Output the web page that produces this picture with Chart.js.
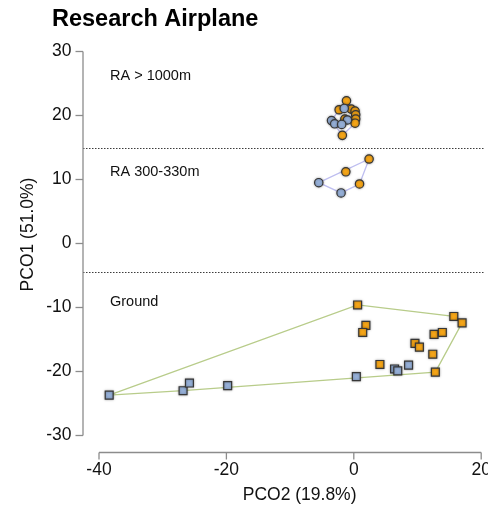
<!DOCTYPE html>
<html>
<head>
<meta charset="utf-8">
<script src="https://cdn.jsdelivr.net/npm/chart.js@4.4.1/dist/chart.umd.min.js"></script>
<style>
  html, body { margin: 0; padding: 0; background: #ffffff; }
  #c { display: block; }
</style>
</head>
<body>
<canvas id="c" width="488" height="505"></canvas>
<script>
// ---------- data ----------
const chartTitle = "Research Airplane";
const xAxisTitle = "PCO2 (19.8%)";
const yAxisTitle = "PCO1 (51.0%)";
const xTicks = [-40, -20, 0, 20];
const yTicks = [-30, -20, -10, 0, 10, 20, 30];
const groupLabels = ["RA > 1000m", "RA 300-330m", "Ground"];
const groupLabelY = [26.2, 11.1, -9.1];
const separatorY = [15, -4.4];

// RA > 1000m (circles)
const highOrange = [[-1.15, 22.3], [-2.3, 20.9], [-0.4, 21.0], [0.2, 20.7], [0.3, 20.1], [0.3, 19.45], [0.2, 18.8], [-1.4, 19.45], [-1.8, 16.9]];
const highBlue = [[-1.5, 21.1], [-3.5, 19.2], [-3.0, 18.7], [-1.0, 19.3], [-1.9, 18.6]];
// RA 300-330m (circles)
const midOrange = [[2.4, 13.2], [-1.25, 11.2], [0.9, 9.3]];
const midBlue = [[-5.5, 9.5], [-2.0, 7.9]];
// Ground (squares)
const groundOrange = [[0.6, -9.6], [15.7, -11.4], [17.0, -12.4], [1.9, -12.8], [1.4, -13.9], [12.6, -14.2], [13.9, -13.9], [9.6, -15.6], [10.3, -16.2], [12.4, -17.3], [4.1, -18.9], [12.8, -20.1]];
const groundBlue = [[-38.4, -23.7], [-26.8, -23.0], [-25.8, -21.8], [-19.8, -22.2], [0.4, -20.8], [6.4, -19.6], [6.9, -19.9], [8.6, -19.0]];

// ---------- helpers ----------
const FONT = "'Liberation Sans', Arial, Helvetica, sans-serif";
const ORANGE = "rgb(246,166,24)";
const BLUE = "rgb(150,176,216)";
const EDGE = "rgb(55,55,55)";
const LAVENDER = "rgb(190,190,240)";
const OLIVE = "rgb(184,204,138)";

const toPts = arr => arr.map(p => ({ x: p[0], y: p[1] }));
function hull(points) {
  const p = points.map(a => ({ x: a[0], y: a[1] })).sort((a, b) => a.x - b.x || a.y - b.y);
  const cross = (o, a, b) => (a.x - o.x) * (b.y - o.y) - (a.y - o.y) * (b.x - o.x);
  const lower = [], upper = [];
  for (const q of p) { while (lower.length >= 2 && cross(lower[lower.length - 2], lower[lower.length - 1], q) <= 0) lower.pop(); lower.push(q); }
  for (let i = p.length - 1; i >= 0; i--) { const q = p[i]; while (upper.length >= 2 && cross(upper[upper.length - 2], upper[upper.length - 1], q) <= 0) upper.pop(); upper.push(q); }
  upper.pop(); lower.pop();
  const h = lower.concat(upper);
  h.push(h[0]);
  return h;
}

function hullSet(points, color) {
  return { type: 'scatter', data: hull(points), showLine: true, borderColor: color, borderWidth: 1.3,
           pointRadius: 0, pointHoverRadius: 0, fill: false, order: 10, tension: 0, isHull: true };
}
function markerSet(points, fill, style) {
  return { type: 'scatter', data: toPts(points), backgroundColor: fill, borderColor: EDGE, borderWidth: 1.2,
           pointStyle: style, pointRadius: style === 'rect' ? 5.6 : 4.2, pointHoverRadius: style === 'rect' ? 5.6 : 4.2, order: 1 };
}

const shadowPlugin = {
  id: 'markerShadow',
  beforeDatasetDraw(chart, args) {
    if (chart.data.datasets[args.index].isHull) return;
    const ctx = chart.ctx;
    ctx.save();
    ctx.shadowColor = "rgba(0,0,0,0.35)";
    ctx.shadowBlur = 2.5;
  },
  afterDatasetDraw(chart, args) {
    if (chart.data.datasets[args.index].isHull) return;
    chart.ctx.restore();
  }
};

const decorPlugin = {
  id: 'decor',
  beforeDatasetsDraw(chart) {
    const ctx = chart.ctx, ys = chart.scales.y, area = chart.chartArea;
    ctx.save();
    ctx.strokeStyle = "rgb(60,60,60)";
    ctx.lineWidth = 1;
    ctx.setLineDash([1.5, 1.5]);
    const axisX = area.left - 16;
    separatorY.forEach(v => {
      const y = Math.round(ys.getPixelForValue(v)) + 0.5;
      ctx.beginPath(); ctx.moveTo(axisX, y); ctx.lineTo(area.right + 3, y); ctx.stroke();
    });
    ctx.setLineDash([]);
    ctx.fillStyle = "#111";
    ctx.font = "14.5px " + FONT;
    ctx.textAlign = "left"; ctx.textBaseline = "middle";
    groupLabels.forEach((t, i) => ctx.fillText(t, area.left + 11, ys.getPixelForValue(groupLabelY[i])));
    ctx.restore();
  },
  afterDraw(chart) {
    const ctx = chart.ctx, xs = chart.scales.x, ys = chart.scales.y, area = chart.chartArea;
    ctx.save();
    ctx.strokeStyle = "rgb(140,140,140)";
    ctx.lineWidth = 1.3;
    const ax = area.left - 16;
    const yTop = ys.getPixelForValue(yTicks[yTicks.length - 1]);
    const yBot = ys.getPixelForValue(yTicks[0]);
    ctx.beginPath(); ctx.moveTo(ax, yTop); ctx.lineTo(ax, yBot); ctx.stroke();
    yTicks.forEach(v => { const y = ys.getPixelForValue(v); ctx.beginPath(); ctx.moveTo(ax, y); ctx.lineTo(ax - 7.5, y); ctx.stroke(); });
    const ay = area.bottom + 17;
    const xL = xs.getPixelForValue(xTicks[0]);
    const xR = xs.getPixelForValue(xTicks[xTicks.length - 1]);
    ctx.beginPath(); ctx.moveTo(xL, ay); ctx.lineTo(xR, ay); ctx.stroke();
    xTicks.forEach(v => { const x = xs.getPixelForValue(v); ctx.beginPath(); ctx.moveTo(x, ay); ctx.lineTo(x, ay + 7); ctx.stroke(); });
    ctx.fillStyle = "#000";
    ctx.font = "bold 23.5px " + FONT;
    ctx.textAlign = "left"; ctx.textBaseline = "alphabetic";
    ctx.fillText(chartTitle, 52, 26);
    ctx.fillStyle = "#111";
    ctx.font = "17.5px " + FONT;
    ctx.textAlign = "center";
    ctx.fillText(xAxisTitle, (area.left + area.right) / 2 + 9.5, 500);
    ctx.translate(33, (area.top + area.bottom) / 2 - 9);
    ctx.rotate(-Math.PI / 2);
    ctx.fillText(yAxisTitle, 0, 0);
    ctx.restore();
  }
};

new Chart(document.getElementById('c'), {
  data: {
    datasets: [
      hullSet(highOrange.concat(highBlue), LAVENDER),
      hullSet(midOrange.concat(midBlue), LAVENDER),
      hullSet(groundOrange.concat(groundBlue), OLIVE),
      markerSet(groundBlue, BLUE, 'rect'),
      markerSet(groundOrange, ORANGE, 'rect'),
      markerSet(midBlue, BLUE, 'circle'),
      markerSet(midOrange, ORANGE, 'circle'),
      markerSet(highBlue, BLUE, 'circle'),
      markerSet(highOrange, ORANGE, 'circle')
    ]
  },
  options: {
    responsive: false,
    animation: false,
    events: [],
    layout: { padding: { top: 51.5, left: 0, right: 5, bottom: 0 } },
    plugins: { legend: { display: false }, tooltip: { enabled: false }, title: { display: false } },
    scales: {
      x: {
        type: 'linear', position: 'bottom', min: xTicks[0], max: xTicks[xTicks.length - 1],
        afterBuildTicks: s => { s.ticks = xTicks.map(v => ({ value: v })); },
        ticks: { font: { family: FONT, size: 17.5 }, color: '#111', padding: 24, maxRotation: 0 },
        grid: { display: false, drawTicks: false }, border: { display: false },
        afterFit: s => { s.height = 69.5; s.paddingLeft = 0; s.paddingRight = 0; }
      },
      y: {
        type: 'linear', position: 'left', min: yTicks[0], max: yTicks[yTicks.length - 1],
        afterBuildTicks: s => { s.ticks = yTicks.map(v => ({ value: v })); },
        ticks: { font: { family: FONT, size: 17.5 }, color: '#111', padding: 27.5 },
        grid: { display: false, drawTicks: false }, border: { display: false },
        afterFit: s => { s.width = 99; s.paddingTop = 0; s.paddingBottom = 0; }
      }
    }
  },
  plugins: [shadowPlugin, decorPlugin]
});
</script>
</body>
</html>
